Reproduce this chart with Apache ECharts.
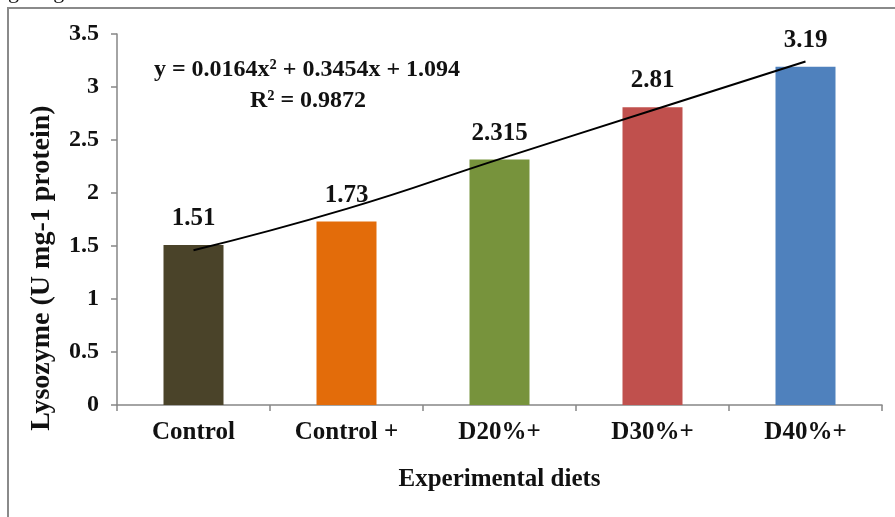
<!DOCTYPE html>
<html>
<head>
<meta charset="utf-8">
<script src="https://cdn.jsdelivr.net/npm/echarts@6/dist/echarts.min.js"></script>
<style>
html,body{margin:0;padding:0;background:#fff;}
#chart{width:895px;height:517px;}
</style>
</head>
<body>
<div id="chart"></div>
<script>
const categories = ['Control', 'Control +', 'D20%+', 'D30%+', 'D40%+'];
const lysozyme = [1.51, 1.73, 2.315, 2.81, 3.19];
const trendValues = [1.46, 1.85, 2.32, 2.78, 3.24];
const barColors = ['#4a4329', '#e36c0a', '#77933c', '#c0504d', '#4f81bd'];
const yTicks = { min: 0, max: 3.5, interval: 0.5 };
const equationText = 'y = 0.0164x\u00B2 + 0.3454x + 1.094';
const r2Text = 'R\u00B2 = 0.9872';
const yTitle = 'Lysozyme (U mg-1 protein)';
const xTitle = 'Experimental diets';

const FONT = '"Liberation Serif", "Times New Roman", serif';
const chart = echarts.init(document.getElementById('chart'));
chart.setOption({
  animation: false,
  backgroundColor: '#fff',
  grid: { left: 117, right: 13, top: 34, bottom: 112 },
  xAxis: {
    type: 'category',
    data: categories,
    boundaryGap: true,
    axisLine: { lineStyle: { color: '#868686', width: 1.5 } },
    axisTick: { show: true, length: 6, lineStyle: { color: '#868686', width: 1.5 } },
    axisLabel: { color: '#111', fontFamily: FONT, fontWeight: 'bold', fontSize: 25, margin: 15 },
    name: xTitle,
    nameLocation: 'middle',
    nameGap: 62,
    nameTextStyle: { color: '#111', fontFamily: FONT, fontWeight: 'bold', fontSize: 25 }
  },
  yAxis: {
    type: 'value',
    min: yTicks.min, max: yTicks.max, interval: yTicks.interval,
    axisLine: { show: true, lineStyle: { color: '#868686', width: 1.5 } },
    axisTick: { show: true, length: 6, lineStyle: { color: '#868686', width: 1.5 } },
    splitLine: { show: false },
    axisLabel: { color: '#111', fontFamily: FONT, fontWeight: 'bold', fontSize: 24, margin: 18 }
  },
  series: [
    {
      type: 'bar',
      data: lysozyme.map((v, i) => ({ value: v, itemStyle: { color: barColors[i] } })),
      barWidth: 60,
      label: {
        show: true, position: 'top', distance: 14,
        color: '#111', fontFamily: FONT, fontWeight: 'bold', fontSize: 25,
        formatter: p => String(p.value)
      }
    },
    {
      type: 'line',
      data: trendValues,
      smooth: true,
      symbol: 'none',
      lineStyle: { color: '#000', width: 2 },
      z: 5
    }
  ],
  graphic: [
    { type: 'line', shape: { x1: 7, y1: 8, x2: 895, y2: 8 }, style: { stroke: '#8a8a8a', lineWidth: 2 } },
    { type: 'line', shape: { x1: 8, y1: 8, x2: 8, y2: 517 }, style: { stroke: '#8a8a8a', lineWidth: 2 } },
    { type: 'text', left: -3, top: -19, style: { text: 'ngerings.', font: '22px ' + FONT, fill: '#111' } },
    { type: 'text', x: 307, y: 70, style: { text: equationText, font: 'bold 24px ' + FONT, fill: '#111', textAlign: 'center', textVerticalAlign: 'middle' } },
    { type: 'text', x: 308, y: 101, style: { text: r2Text, font: 'bold 24px ' + FONT, fill: '#111', textAlign: 'center', textVerticalAlign: 'middle' } },
    { type: 'text', x: 42, y: 268, rotation: Math.PI / 2, style: { text: yTitle, font: 'bold 28px ' + FONT, fill: '#111', textAlign: 'center', textVerticalAlign: 'middle' } }
  ]
});
</script>
</body>
</html>
